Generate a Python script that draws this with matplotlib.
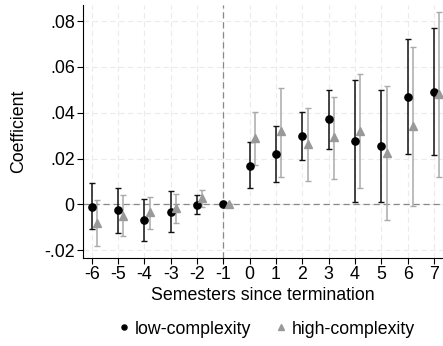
import numpy as np
import matplotlib.pyplot as plt
from matplotlib.ticker import FuncFormatter

plt.rcParams['font.family'] = ['Liberation Sans', 'DejaVu Sans']
plt.rcParams['axes.unicode_minus'] = False

# semesters relative to termination
sem = [-6, -5, -4, -3, -2, -1, 0, 1, 2, 3, 4, 5, 6, 7]

# low-complexity: coefficient and CI bounds
low = [-0.0010, -0.0025, -0.0069, -0.0032, -0.0002, 0.0, 0.0169, 0.0220, 0.0298, 0.0372, 0.0276, 0.0255, 0.0469, 0.0492]
low_hi = [0.0092, 0.0073, 0.0025, 0.0060, 0.0039, 0.0, 0.0271, 0.0343, 0.0404, 0.0499, 0.0543, 0.0499, 0.0720, 0.0769]
low_lo = [-0.0109, -0.0124, -0.0160, -0.0122, -0.0042, 0.0, 0.0070, 0.0097, 0.0192, 0.0240, 0.0011, 0.0010, 0.0218, 0.0215]

# high-complexity
high = [-0.0080, -0.0050, -0.0032, -0.0017, 0.0028, 0.0001, 0.0288, 0.0320, 0.0263, 0.0293, 0.0320, 0.0225, 0.0343, 0.0480]
high_hi = [0.0017, 0.0042, 0.0032, 0.0046, 0.0064, 0.0001, 0.0402, 0.0509, 0.0419, 0.0467, 0.0570, 0.0518, 0.0688, 0.0838]
high_lo = [-0.0180, -0.0140, -0.0108, -0.0083, -0.0013, 0.0001, 0.0174, 0.0118, 0.0102, 0.0112, 0.0070, -0.0069, -0.0009, 0.0121]

x = np.array(sem, dtype=float)
low = np.array(low); high = np.array(high)
lerr = [low - np.array(low_lo), np.array(low_hi) - low]
herr = [high - np.array(high_lo), np.array(high_hi) - high]

fig = plt.figure(figsize=(4.43, 3.46), dpi=100)
ax = fig.add_axes([83/443, 88/346, 360/443, 253/346])

ax.errorbar(x, low, yerr=lerr, fmt='none', ecolor='#111111', elinewidth=1.1, capsize=2, capthick=1, zorder=3)
ax.errorbar(x + 0.2, high, yerr=herr, fmt='none', ecolor='#aaaaaa', elinewidth=1.1, capsize=2, capthick=1, zorder=3)
ax.plot(x, low, 'o', color='black', ms=5.2, zorder=4, label='low-complexity')
ax.plot(x + 0.2, high, '^', color='#999999', ms=5.2, zorder=4, label='high-complexity')

ax.axvline(-1, color='#888888', ls=(0, (5, 3)), lw=0.9, zorder=2)
ax.axhline(0, color='#888888', ls=(0, (5, 3)), lw=0.9, zorder=2)

ax.set_xlim(-6.33, 7.34)
ax.set_ylim(-0.0234, 0.087)
ax.set_xticks(sem)
ax.set_yticks([-0.02, 0, 0.02, 0.04, 0.06, 0.08])

def fmt(v, pos):
    if abs(v) < 1e-9:
        return '0'
    s = '%.2f' % v
    return s.replace('0.', '.')

ax.yaxis.set_major_formatter(FuncFormatter(fmt))
ax.grid(True, color='#ebebeb', ls=(0, (5, 3)), lw=0.8, zorder=0)
ax.set_axisbelow(True)

for s in ['top', 'right']:
    ax.spines[s].set_visible(False)
ax.tick_params(labelsize=12.8, length=4, width=0.8, pad=2)
ax.set_xlabel('Semesters since termination', fontsize=12.8, labelpad=3)
ax.set_ylabel('Coefficient', fontsize=12.8, labelpad=12)

fig.legend(loc='center', bbox_to_anchor=(265/443, 1 - 329/346), ncol=2, frameon=False,
           fontsize=12.8, handletextpad=0.1, columnspacing=1.2, markerscale=0.7, handlelength=1)

fig.savefig('out.png', dpi=100)
